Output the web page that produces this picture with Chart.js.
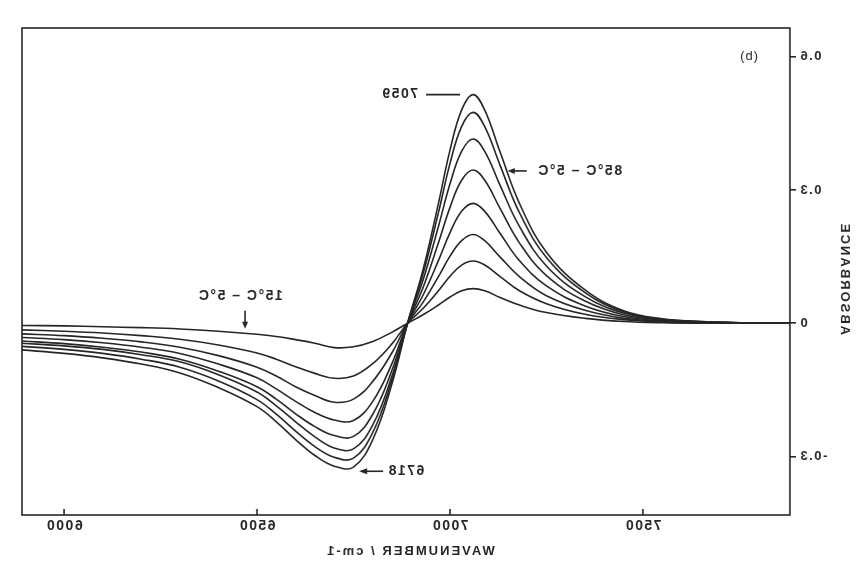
<!DOCTYPE html>
<html>
<head>
<meta charset="utf-8">
<script src="https://cdn.jsdelivr.net/npm/chart.js@4.4.1/dist/chart.umd.min.js"></script>
<style>
    html, body { margin: 0; padding: 0; background: #fff; }
    /* the scanned figure is mirrored left-right, so the canvas is too */
    #marco { width: 862px; height: 572px; transform: scaleX(-1); }
</style>
</head>
<body>
<div id="marco"><canvas id="graficoAbs" width="862" height="572"></canvas></div>
<script>
// wavenumbers (cm-1) where each difference spectrum was read
const numerosOnda = [5890, 6000, 6100, 6200, 6300, 6400, 6500, 6550, 6600, 6650, 6700, 6750, 6800, 6850, 6890,
                     6930, 6970, 7000, 7030, 7060, 7090, 7130, 7180, 7250, 7350, 7450, 7550, 7650, 7750, 7880];

const etiquetasSerie = ['15°C – 5°C', '25°C – 5°C', '35°C – 5°C', '45°C – 5°C',
                        '55°C – 5°C', '65°C – 5°C', '75°C – 5°C', '85°C – 5°C'];

const abs15 = [-0.005, -0.006, -0.008, -0.010, -0.013, -0.018, -0.025, -0.030, -0.037, -0.045, -0.055, -0.053, -0.041, -0.020, 0,
               0.019, 0.041, 0.059, 0.073, 0.078, 0.073, 0.058, 0.041, 0.024, 0.011, 0.004, 0.001, 0, 0, 0];
const abs25 = [-0.015, -0.018, -0.022, -0.028, -0.036, -0.049, -0.067, -0.081, -0.098, -0.113, -0.124, -0.119, -0.091, -0.046, 0,
               0.033, 0.073, 0.106, 0.131, 0.140, 0.131, 0.105, 0.073, 0.044, 0.020, 0.008, 0.003, 0.001, 0, 0];
const abs35 = [-0.024, -0.028, -0.034, -0.042, -0.054, -0.073, -0.099, -0.119, -0.143, -0.163, -0.178, -0.171, -0.131, -0.066, 0,
               0.047, 0.105, 0.151, 0.186, 0.200, 0.186, 0.149, 0.105, 0.062, 0.029, 0.011, 0.004, 0.002, 0, 0];
const abs45 = [-0.032, -0.037, -0.044, -0.054, -0.068, -0.092, -0.123, -0.148, -0.176, -0.201, -0.218, -0.219, -0.176, -0.090, 0,
               0.063, 0.141, 0.204, 0.252, 0.270, 0.252, 0.202, 0.141, 0.084, 0.039, 0.015, 0.005, 0.002, 0.001, 0];
const abs55 = [-0.040, -0.046, -0.054, -0.065, -0.081, -0.108, -0.143, -0.171, -0.204, -0.233, -0.253, -0.255, -0.205, -0.105, 0,
               0.080, 0.181, 0.261, 0.322, 0.345, 0.322, 0.258, 0.181, 0.107, 0.050, 0.019, 0.007, 0.003, 0.001, 0];
const abs65 = [-0.045, -0.051, -0.059, -0.071, -0.087, -0.116, -0.155, -0.186, -0.222, -0.256, -0.281, -0.283, -0.229, -0.118, 0,
               0.097, 0.218, 0.314, 0.387, 0.415, 0.387, 0.310, 0.218, 0.129, 0.060, 0.023, 0.008, 0.003, 0.001, 0];
const abs75 = [-0.052, -0.059, -0.068, -0.081, -0.099, -0.130, -0.172, -0.205, -0.243, -0.278, -0.302, -0.304, -0.246, -0.127, 0,
               0.111, 0.249, 0.360, 0.443, 0.475, 0.443, 0.355, 0.249, 0.148, 0.069, 0.026, 0.009, 0.004, 0.001, 0];
const abs85 = [-0.060, -0.068, -0.078, -0.092, -0.112, -0.145, -0.188, -0.222, -0.262, -0.298, -0.322, -0.324, -0.262, -0.135, 0,
               0.120, 0.270, 0.390, 0.480, 0.515, 0.480, 0.385, 0.270, 0.160, 0.075, 0.028, 0.010, 0.004, 0.001, 0];

const series = [abs15, abs25, abs35, abs45, abs55, abs65, abs75, abs85];

const ticksX = [6000, 6500, 7000, 7500];
const ticksY = [-0.3, 0, 0.3, 0.6];
const etiquetasY = ['-0.3', '0', '0.3', '0.6'];

// annotation anchors (wavenumber, absorbance)
const picoMax = { texto: '7059', x: 7052, y: 0.515 };
const picoMin = { texto: '6718', x: 6718, y: -0.329 };
const notaAlta = { texto: '85°C – 5°C', x: 7142, y: 0.343 };
const notaBaja = { texto: '15°C – 5°C', x: 6469, y: -0.017 };

const tinta = '#262626';
const fuente = '"Liberation Sans", Arial, sans-serif';

const anotaciones = {
    id: 'anotaciones',
    beforeDraw(chart) {
        chart.ctx.letterSpacing = '1.5px';
    },
    afterDraw(chart) {
        const { ctx, chartArea: a, scales: { x, y } } = chart;
        ctx.save();
        ctx.strokeStyle = tinta;
        ctx.fillStyle = tinta;
        ctx.lineWidth = 1.6;
        ctx.strokeRect(a.left, a.top, a.right - a.left, a.bottom - a.top);

        // inward ticks on the wavenumber axis
        ticksX.forEach(v => {
            const px = x.getPixelForValue(v);
            ctx.beginPath();
            ctx.moveTo(px, a.bottom);
            ctx.lineTo(px, a.bottom - 6);
            ctx.stroke();
        });

        ctx.font = 'bold 14px ' + fuente;
        ctx.textBaseline = 'middle';

        // peak label: line from the band top
        let px = x.getPixelForValue(picoMax.x);
        let py = y.getPixelForValue(picoMax.y);
        ctx.beginPath();
        ctx.moveTo(px + 10, py);
        ctx.lineTo(px + 44, py);
        ctx.stroke();
        ctx.textAlign = 'left';
        ctx.fillText(picoMax.texto, px + 52, py);

        // minimum label with arrow
        px = x.getPixelForValue(picoMin.x);
        py = y.getPixelForValue(picoMin.y) + 2;
        ctx.beginPath();
        ctx.moveTo(px - 42, py);
        ctx.lineTo(px - 20, py);
        ctx.stroke();
        ctx.beginPath();
        ctx.moveTo(px - 18, py);
        ctx.lineTo(px - 26, py - 3);
        ctx.lineTo(px - 26, py + 3);
        ctx.fill();
        ctx.textAlign = 'right';
        ctx.fillText(picoMin.texto, px - 46, py);

        // 85-5 label
        px = x.getPixelForValue(notaAlta.x);
        py = y.getPixelForValue(notaAlta.y);
        ctx.beginPath();
        ctx.moveTo(px - 22, py);
        ctx.lineTo(px - 6, py);
        ctx.stroke();
        ctx.beginPath();
        ctx.moveTo(px - 3, py);
        ctx.lineTo(px - 10, py - 3);
        ctx.lineTo(px - 10, py + 3);
        ctx.fill();
        ctx.fillText(notaAlta.texto, px - 32, py);

        // 15-5 label
        px = x.getPixelForValue(notaBaja.x);
        py = y.getPixelForValue(notaBaja.y);
        ctx.beginPath();
        ctx.moveTo(px, py - 20);
        ctx.lineTo(px, py - 6);
        ctx.stroke();
        ctx.beginPath();
        ctx.moveTo(px, py - 2);
        ctx.lineTo(px - 3, py - 9);
        ctx.lineTo(px + 3, py - 9);
        ctx.fill();
        ctx.textAlign = 'center';
        ctx.fillText(notaBaja.texto, px + 5, py - 35);

        // axis titles
        ctx.font = 'bold 13px ' + fuente;
        ctx.letterSpacing = '2px';
        ctx.fillText('WAVENUMBER / cm-1', (a.left + a.right) / 2 - 4, 551);
        ctx.save();
        ctx.translate(17, (a.top + a.bottom) / 2 + 7);
        ctx.rotate(-Math.PI / 2);
        ctx.fillText('ABSORBANCE', 0, 0);
        ctx.restore();

        // panel letter
        ctx.letterSpacing = '1px';
        ctx.textAlign = 'left';
        ctx.font = '13px ' + fuente;
        ctx.fillText('(b)', a.left + 32, a.top + 28);
        ctx.restore();
        ctx.letterSpacing = '0px';
    }
};

const ctx = document.getElementById('graficoAbs');

new Chart(ctx.getContext('2d'), {
    type: 'line',
    data: {
        datasets: series.map((valores, i) => ({
            label: etiquetasSerie[i],
            data: numerosOnda.map((w, j) => ({ x: w, y: valores[j] })),
            borderColor: tinta,
            borderWidth: 1.6,
            pointRadius: 0,
            fill: false,
            tension: 0.4
        }))
    },
    options: {
        responsive: false,
        animation: false,
        layout: { padding: { left: 0, right: 22, top: 28, bottom: 0 } },
        plugins: {
            legend: { display: false },
            tooltip: { enabled: false }
        },
        scales: {
            x: {
                type: 'linear',
                reverse: true,
                min: 5891,
                max: 7881,
                afterBuildTicks: s => { s.ticks = ticksX.map(v => ({ value: v })); },
                afterFit: s => { s.height = 57; },
                grid: { display: false, drawTicks: false },
                border: { display: false },
                ticks: {
                    color: tinta,
                    padding: 3,
                    maxRotation: 0,
                    font: { family: fuente, size: 14, weight: 'bold' },
                    callback: v => String(v)
                }
            },
            y: {
                min: -0.432,
                max: 0.665,
                afterBuildTicks: s => { s.ticks = ticksY.map(v => ({ value: v })); },
                afterFit: s => { s.width = 72; },
                grid: { drawOnChartArea: false, tickLength: 6, color: tinta, lineWidth: 1.6 },
                border: { display: false },
                ticks: {
                    color: tinta,
                    padding: 3,
                    font: { family: fuente, size: 13, weight: 'bold' },
                    callback: v => etiquetasY[ticksY.indexOf(v)] ?? ''
                }
            }
        }
    },
    plugins: [anotaciones]
});
</script>
</body>
</html>
